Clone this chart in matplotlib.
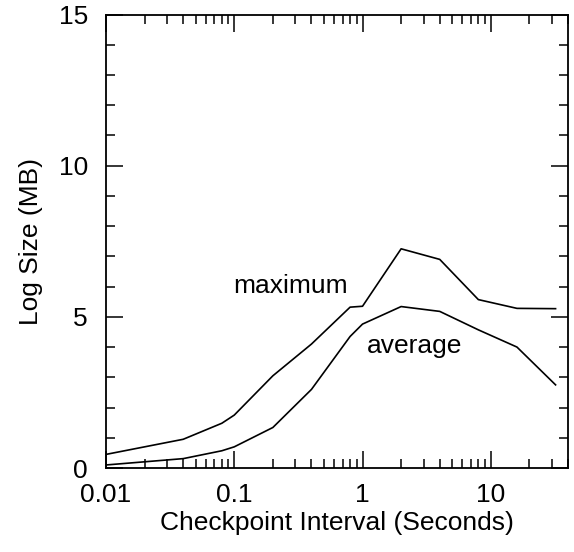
import matplotlib
matplotlib.use("Agg")
import matplotlib.pyplot as plt
from matplotlib.ticker import FixedLocator, LogLocator, NullFormatter, MultipleLocator

plt.rcParams['font.family'] = ['Liberation Sans', 'DejaVu Sans']

# checkpoint interval (s) and log size (MB)
interval = [0.01, 0.04, 0.08, 0.1, 0.2, 0.4, 0.8, 1, 2, 4, 8, 16, 32]
size_max = [0.45, 0.95, 1.48, 1.75, 3.05, 4.1, 5.32, 5.35, 7.25, 6.9, 5.57, 5.28, 5.27]
size_avg = [0.1, 0.31, 0.57, 0.7, 1.34, 2.6, 4.35, 4.76, 5.34, 5.18, 4.57, 4.0, 2.75]

xticks = [0.01, 0.1, 1, 10]
xticklabels = ["0.01", "0.1", "1", "10"]
yticks = [0, 5, 10, 15]

fs = 19

fig = plt.figure(figsize=(5.74, 5.52), dpi=100)
ax = fig.add_axes([106 / 574, 1 - 468 / 552, 462 / 574, 453.5 / 552])

ax.plot(interval, size_max, color="black", lw=1.2)
ax.plot(interval, size_avg, color="black", lw=1.2)

ax.text(0.098, 5.78, "maximum", fontsize=fs, ha="left", va="baseline")
ax.text(1.077, 3.80, "average", fontsize=fs, ha="left", va="baseline")

ax.set_xscale("log")
ax.set_xlim(0.01, 40)
ax.set_ylim(0, 15)

ax.xaxis.set_major_locator(FixedLocator(xticks))
ax.set_xticklabels(xticklabels)
ax.xaxis.set_minor_locator(LogLocator(base=10, subs=range(2, 10)))
ax.xaxis.set_minor_formatter(NullFormatter())
ax.set_yticks(yticks)
ax.yaxis.set_minor_locator(MultipleLocator(1))

ax.tick_params(which="both", direction="in", top=True, right=True, labelsize=fs, width=1.1)
ax.tick_params(which="major", length=12)
ax.tick_params(which="minor", length=6.5)
ax.tick_params(axis="x", pad=11)
ax.tick_params(axis="y", pad=13)

for s in ax.spines.values():
    s.set_linewidth(1.3)

ax.set_xlabel("Checkpoint Interval (Seconds)", fontsize=fs, labelpad=3)
ax.set_ylabel("Log Size (MB)", fontsize=fs, labelpad=11)

fig.savefig("out.png", dpi=100)
